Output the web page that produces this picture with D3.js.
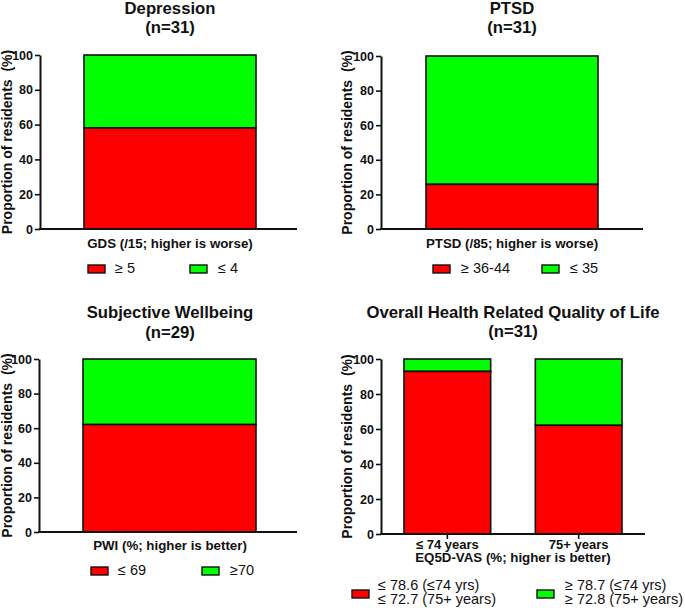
<!DOCTYPE html>
<html>
<head>
<meta charset="utf-8">
<script src="https://cdn.jsdelivr.net/npm/d3@7/dist/d3.min.js"></script>
<style>
  html, body { margin: 0; padding: 0; background: #fff; }
  svg { display: block; font-family: "Liberation Sans", Arial, sans-serif; }
</style>
</head>
<body>
<svg id="chart" width="685" height="611"></svg>
<script>
// ---------- DATA ----------
const titles = ["Depression", "PTSD", "Subjective Wellbeing", "Overall Health Related Quality of Life"];
const sampleSizes = ["(n=31)", "(n=31)", "(n=29)", "(n=31)"];
const xLabels = ["GDS (/15; higher is worse)", "PTSD (/85; higher is worse)", "PWI (%; higher is better)", "EQ5D-VAS (%; higher is better)"];
const yLabel = "Proportion of residents  (%)";
const yTicks = [0, 20, 40, 60, 80, 100];

const depressionCats = ["GDS"];
const depressionRed = [58.1];
const depressionGreen = [41.9];

const ptsdCats = ["PTSD"];
const ptsdRed = [25.8];
const ptsdGreen = [74.2];

const pwiCats = ["PWI"];
const pwiRed = [62.1];
const pwiGreen = [37.9];

const eqCats = ["\u2264 74 years", "75+ years"];
const eqRed = [92.9, 62.1];
const eqGreen = [7.1, 37.9];

const legendRed = [["\u2265 5"], ["\u2265 36-44"], ["\u2264 69"], ["\u2264 78.6 (\u226474 yrs)", "\u2264 72.7 (75+ years)"]];
const legendGreen = [["\u2264 4"], ["\u2264 35"], ["\u226570"], ["\u2265 78.7 (\u226474 yrs)", "\u2265 72.8 (75+ years)"]];

const RED = "#ff0000", GREEN = "#00ff00";

// ---------- LAYOUT ----------
const layouts = [
  { ax: 40, axEnd: 297, yTop: 55, yBot: 229, b0: 84, b1: 256, pad: 0, titleX: 170, t1: 14, t2: 33, xlY: 248, showCats: false,
    leg: { y: 265, rx: 88, rtx: 115, gx: 190, gtx: 218 }, ylx: 12 },
  { ax: 381, axEnd: 643, yTop: 56, yBot: 229, b0: 426, b1: 598, pad: 0, titleX: 512, t1: 14, t2: 33, xlY: 248, showCats: false,
    leg: { y: 265, rx: 433, rtx: 461, gx: 542, gtx: 570 }, ylx: 352 },
  { ax: 39, axEnd: 297, yTop: 359, yBot: 532, b0: 83, b1: 256, pad: 0, titleX: 170, t1: 318, t2: 338, xlY: 550, showCats: false,
    leg: { y: 567, rx: 91, rtx: 118, gx: 202, gtx: 230 }, ylx: 12 },
  { ax: 381, axEnd: 645, yTop: 359, yBot: 534, b0: 404, b1: 622, pad: 0.34, titleX: 513, t1: 318, t2: 337, xlY: 562, catY: 549, showCats: true,
    leg: { y: 590, rx: 352, rtx: 378, gx: 537, gtx: 565, twoLine: true }, ylx: 352 }
];

const panels = [
  { cats: depressionCats, red: depressionRed, green: depressionGreen },
  { cats: ptsdCats, red: ptsdRed, green: ptsdGreen },
  { cats: pwiCats, red: pwiRed, green: pwiGreen },
  { cats: eqCats, red: eqRed, green: eqGreen }
];

const svg = d3.select("#chart");

panels.forEach((p, i) => {
  const L = layouts[i];
  const g = svg.append("g");

  const y = d3.scaleLinear().domain([0, 100]).range([L.yBot, L.yTop]);
  const x = d3.scaleBand().domain(p.cats).range([L.b0, L.b1]).paddingInner(L.pad).paddingOuter(0);

  // Titles
  g.append("text").attr("x", L.titleX).attr("y", L.t1).attr("text-anchor", "middle")
    .attr("font-size", 16.7).attr("font-weight", "bold").attr("fill", "#111").text(titles[i]);
  g.append("text").attr("x", L.titleX).attr("y", L.t2).attr("text-anchor", "middle")
    .attr("font-size", 16.7).attr("font-weight", "bold").attr("fill", "#111").text(sampleSizes[i]);

  // Bars (stacked)
  const stackData = p.cats.map((c, j) => ({ cat: c, red: p.red[j], green: p.green[j] }));
  const bars = g.append("g");
  bars.selectAll("rect.green").data(stackData).join("rect")
    .attr("class", "green")
    .attr("x", d => x(d.cat)).attr("width", x.bandwidth())
    .attr("y", d => y(d.red + d.green)).attr("height", d => y(d.red) - y(d.red + d.green))
    .attr("fill", GREEN).attr("stroke", "#111").attr("stroke-width", 1.6);
  bars.selectAll("rect.red").data(stackData).join("rect")
    .attr("class", "red")
    .attr("x", d => x(d.cat)).attr("width", x.bandwidth())
    .attr("y", d => y(d.red)).attr("height", d => y(0) - y(d.red))
    .attr("fill", RED).attr("stroke", "#111").attr("stroke-width", 1.6);

  // Y axis
  const yAxis = d3.axisLeft(y).tickValues(yTicks).tickSize(5).tickPadding(2).tickSizeOuter(0);
  const ya = g.append("g").attr("transform", `translate(${L.ax},0)`).call(yAxis);
  ya.select(".domain").attr("stroke", "#111").attr("stroke-width", 2);
  ya.selectAll(".tick line").attr("stroke", "#111").attr("stroke-width", 1.6);
  ya.selectAll(".tick text").attr("font-size", 12.5).attr("font-weight", "bold").attr("fill", "#111")
    .attr("font-family", "Liberation Sans, Arial, sans-serif");

  // X axis line
  g.append("line").attr("x1", L.ax - 1).attr("x2", L.axEnd).attr("y1", L.yBot).attr("y2", L.yBot)
    .attr("stroke", "#111").attr("stroke-width", 2);

  if (L.showCats) {
    const xAxis = d3.axisBottom(x).tickSize(5).tickPadding(3).tickSizeOuter(0);
    const xa = g.append("g").attr("transform", `translate(0,${L.yBot})`).call(xAxis);
    xa.select(".domain").remove();
    xa.selectAll(".tick line").attr("stroke", "#111").attr("stroke-width", 1.6);
    xa.selectAll(".tick text").remove();
    g.selectAll("text.cat").data(p.cats).join("text").attr("class", "cat")
      .attr("x", d => x(d) + x.bandwidth() / 2).attr("y", L.catY)
      .attr("text-anchor", "middle").attr("font-size", 13).attr("font-weight", "bold").attr("fill", "#111")
      .text(d => d);
  }

  // X label
  g.append("text").attr("x", L.titleX).attr("y", L.xlY).attr("text-anchor", "middle")
    .attr("font-size", 13.3).attr("font-weight", "bold").attr("fill", "#111").text(xLabels[i]);

  // Y label
  const yc = (L.yTop + L.yBot) / 2;
  g.append("text").attr("transform", `translate(${L.ylx},${yc}) rotate(-90)`)
    .attr("text-anchor", "middle").attr("font-size", 14).attr("font-weight", "bold").attr("fill", "#111")
    .attr("xml:space", "preserve").style("white-space", "pre").text(yLabel);

  // Legend
  const lg = L.leg;
  const sw = 17, sh = 8;
  const drawItem = (sx, tx, color, lines) => {
    g.append("rect").attr("x", sx).attr("y", lg.y).attr("width", sw).attr("height", sh)
      .attr("fill", color).attr("stroke", "#111").attr("stroke-width", 1.4);
    if (lines.length === 1) {
      g.append("text").attr("x", tx).attr("y", lg.y + 8).attr("font-size", 14.5).attr("fill", "#111").text(lines[0]);
    } else {
      lines.forEach((t, k) => {
        g.append("text").attr("x", tx).attr("y", lg.y + k * 14).attr("font-size", 14.5).attr("fill", "#111").text(t);
      });
    }
  };
  drawItem(lg.rx, lg.rtx, RED, legendRed[i]);
  drawItem(lg.gx, lg.gtx, GREEN, legendGreen[i]);
});
</script>
</body>
</html>
